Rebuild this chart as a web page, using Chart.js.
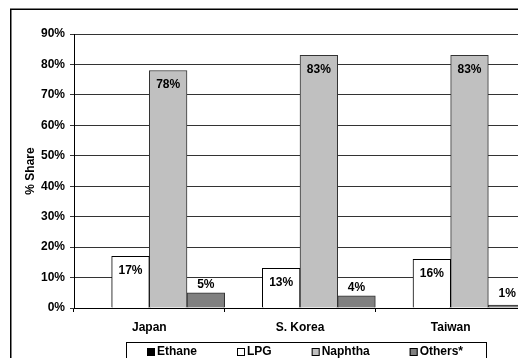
<!DOCTYPE html>
<html>
<head>
<meta charset="utf-8">
<script src="https://cdn.jsdelivr.net/npm/chart.js@4"></script>
<style>
  html, body { margin: 0; padding: 0; overflow: hidden; background: #fff; }
  #wrap { position: absolute; left: 0; top: 0; width: 530px; height: 358px; }
</style>
</head>
<body>
<div id="wrap"><canvas id="shareChart" width="530" height="358"></canvas></div>
<script>
// Feedstock share by country
const countries = ['Japan', 'S. Korea', 'Taiwan'];
const ethane = [0, 0, 0];
const lpg = [17, 13, 16];
const naphtha = [78, 83, 83];
const others = [5, 4, 1];
const yTicks = [0, 10, 20, 30, 40, 50, 60, 70, 80, 90];

Chart.defaults.font.family = '"Liberation Sans", Arial, sans-serif';
Chart.defaults.font.weight = 'bold';
Chart.defaults.font.size = 12;
Chart.defaults.color = '#000';

// labels on top of bars: inside for LPG / Naphtha, above for Others
const barLabels = {
    id: 'barLabels',
    afterDatasetsDraw(chart) {
        const ctx = chart.ctx;
        ctx.save();
        ctx.font = 'bold 12px "Liberation Sans", Arial, sans-serif';
        ctx.fillStyle = '#000';
        ctx.textAlign = 'center';
        ctx.textBaseline = 'middle';
        chart.data.datasets.forEach((ds, i) => {
            if (ds.label === 'Ethane') return;
            chart.getDatasetMeta(i).data.forEach((bar, j) => {
                const v = ds.data[j];
                let y = ds.label === 'Others*' ? bar.y - 8 : bar.y + 14;
                if (ds.label === 'Others*' && v < 2) y = bar.y - 11;
                ctx.fillText(v + '%', bar.x, y);
            });
        });
        ctx.restore();
    }
};

// outer frame + legend box at bottom
const frameAndLegend = {
    id: 'frameAndLegend',
    beforeDraw(chart) {
        const ctx = chart.ctx;
        ctx.save();
        ctx.fillStyle = '#fff';
        ctx.fillRect(0, 0, chart.width, chart.height);
        ctx.restore();
    },
    afterDraw(chart) {
        const ctx = chart.ctx;
        ctx.save();
        ctx.strokeStyle = '#000';
        ctx.lineWidth = 1.5;
        ctx.strokeRect(10.75, 9.25, 600, 400);

        // legend
        ctx.lineWidth = 1;
        ctx.strokeRect(126.5, 342.5, 360, 40);
        ctx.font = 'bold 12px "Liberation Sans", Arial, sans-serif';
        ctx.textBaseline = 'middle';
        let x = 147;
        const cy = 352;
        chart.data.datasets.forEach(ds => {
            ctx.fillStyle = ds.backgroundColor;
            ctx.fillRect(x, cy - 4, 8, 8);
            ctx.strokeStyle = '#000';
            ctx.strokeRect(x + 0.5, cy - 3.5, 7, 7);
            ctx.fillStyle = '#000';
            ctx.fillText(ds.label, x + 10, cy);
            x += 10 + ctx.measureText(ds.label).width + 40;
        });
        ctx.restore();
    }
};

const ctx = document.getElementById('shareChart').getContext('2d');
const shareChart = new Chart(ctx, {
    type: 'bar',
    data: {
        labels: countries,
        datasets: [
            { label: 'Ethane', data: ethane, backgroundColor: '#000000', borderColor: '#000', borderWidth: 1 },
            { label: 'LPG', data: lpg, backgroundColor: '#ffffff', borderColor: '#000', borderWidth: 1 },
            { label: 'Naphtha', data: naphtha, backgroundColor: '#c0c0c0', borderColor: '#333', borderWidth: 1 },
            { label: 'Others*', data: others, backgroundColor: '#808080', borderColor: '#333', borderWidth: 1 }
        ]
    },
    options: {
        responsive: false,
        animation: false,
        layout: { padding: { top: 34, right: 4, bottom: 0, left: 0 } },
        datasets: { bar: { categoryPercentage: 1, barPercentage: 1 } },
        plugins: { legend: { display: false }, tooltip: { enabled: false } },
        scales: {
            x: {
                grid: { drawOnChartArea: false, drawTicks: true, tickLength: 4, color: '#000' },
                border: { color: '#000' },
                ticks: { padding: 8, font: { size: 12, weight: 'bold' } },
                afterFit(scale) { scale.height = 50; }
            },
            y: {
                min: 0,
                max: 90,
                afterBuildTicks(scale) { scale.ticks = yTicks.map(v => ({ value: v })); },
                grid: { color: '#333', tickLength: 4 },
                border: { color: '#000' },
                ticks: { padding: 5, callback: v => v + '%', font: { size: 12, weight: 'bold' } },
                title: { display: true, text: '% Share', padding: { top: 23, bottom: 0 }, font: { size: 12, weight: 'bold' } },
                afterFit(scale) { scale.width = 74; }
            }
        }
    },
    plugins: [frameAndLegend, barLabels]
});
</script>
</body>
</html>
